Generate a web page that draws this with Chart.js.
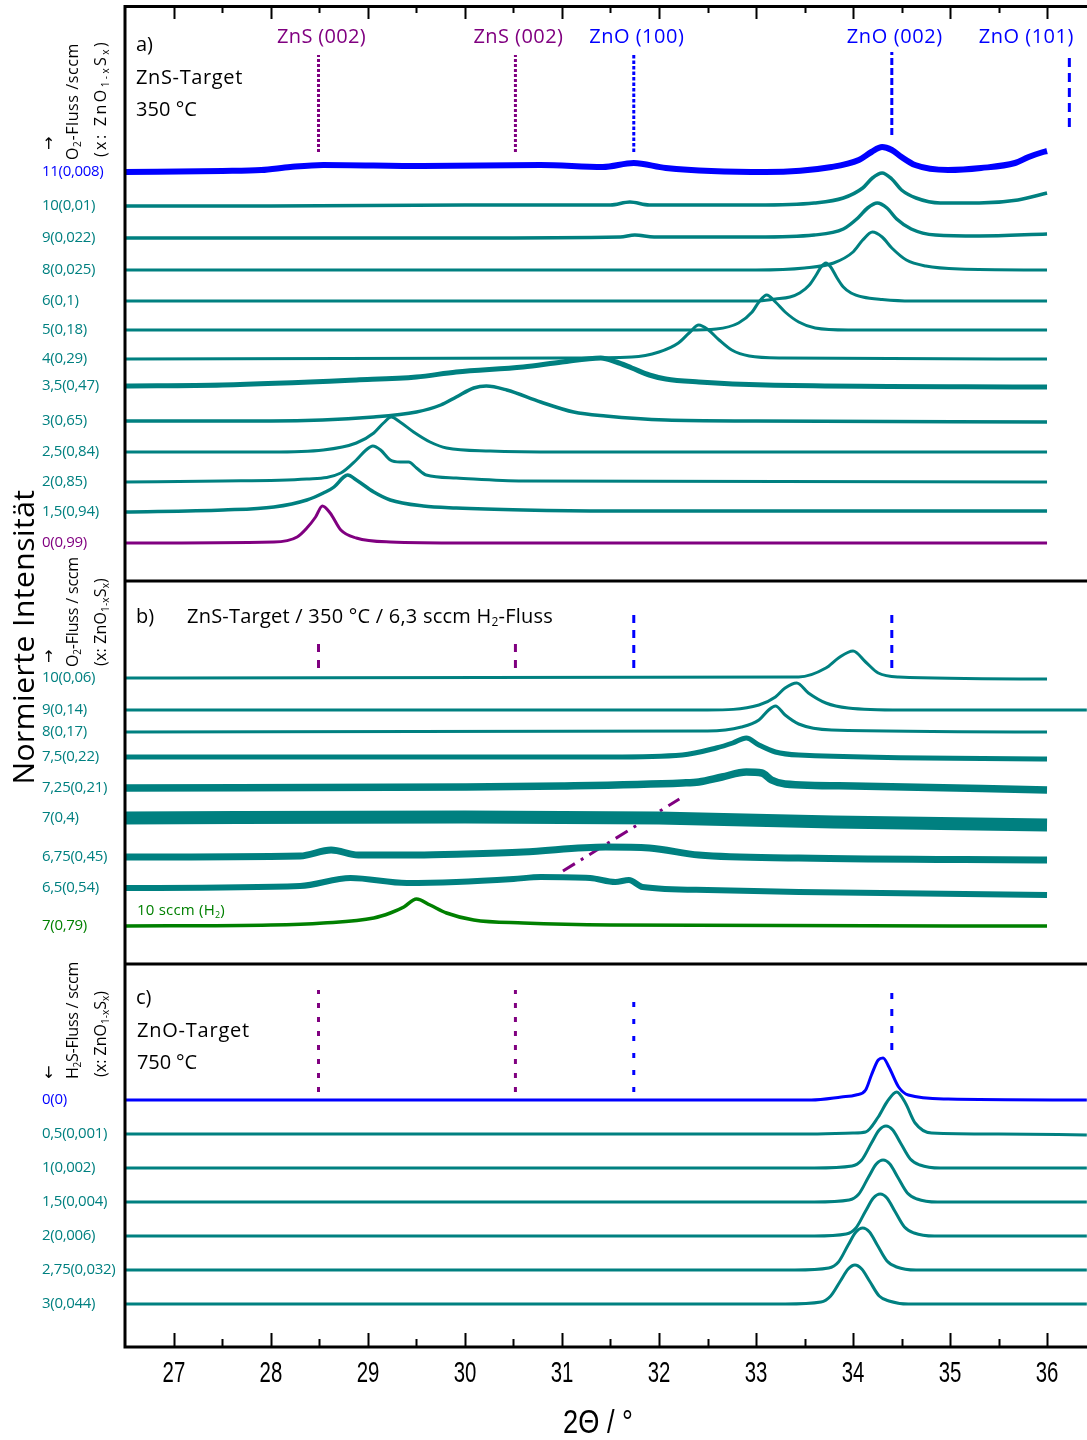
<!DOCTYPE html>
<html>
<head>
<meta charset="utf-8">
<script src="https://cdn.jsdelivr.net/npm/chart.js@4/dist/chart.umd.min.js"></script>
<style>
  html, body { margin: 0; padding: 0; background: #fff; }
  canvas { display: block; }
</style>
</head>
<body>
<canvas id="xrd" width="1087" height="1440" style="width:1087px;height:1440px"></canvas>
<script>
// ---- axis ----------------------------------------------------------------
const xMin = 26.485, xMax = 36.412;
const xTicks = [27, 28, 29, 30, 31, 32, 33, 34, 35, 36];
const xMinorTicks = [27.5, 28.5, 29.5, 30.5, 31.5, 32.5, 33.5, 34.5, 35.5];

// ---- reference reflections (2θ / °) ---------------------------------------
const refNames = ['ZnS (002)', 'ZnS (002)', 'ZnO (100)', 'ZnO (002)', 'ZnO (101)'];
const refPositions = [28.49, 30.52, 31.74, 34.40, 36.23];

// ---- panel a: ZnS target, 350 °C, O2 flow (x) : [2θ, intensity] ------------
const a11  = [[26.49,0],[27.5,1],[27.9,2],[28.2,5],[28.54,7],[29.57,6],[30.78,7],[31.42,5],[31.74,9],[32.07,4],[33.1,0],[33.78,5],[34.06,12],[34.19,20],[34.3,25],[34.4,22],[34.5,15],[34.64,7],[34.98,2],[35.32,4],[35.67,9],[35.81,15],[35.96,20],[36.0,21]];
const a10  = [[26.49,0],[28,0],[30,1],[31.5,1],[31.7,4],[31.9,1],[33,1],[33.6,3],[33.9,8],[34.1,18],[34.2,28],[34.3,33],[34.4,27],[34.5,16],[34.65,8],[34.9,3],[35.3,3],[35.7,6],[36,13]];
const a9   = [[26.49,0],[30,0],[31.6,1],[31.75,3],[31.95,1],[33,1],[33.6,3],[33.9,9],[34.05,20],[34.15,30],[34.25,35],[34.35,30],[34.45,19],[34.6,9],[34.85,3],[35.3,2],[36,4]];
const a8   = [[26.49,0],[33,0],[33.5,2],[33.8,7],[34.0,18],[34.1,30],[34.2,38],[34.3,33],[34.4,22],[34.55,10],[34.75,4],[35.1,1],[36,0]];
const a6   = [[26.49,0],[33.0,0],[33.2,2],[33.35,4],[33.45,8],[33.55,16],[33.62,26],[33.67,34],[33.72,38],[33.77,34],[33.83,24],[33.9,14],[33.98,8],[34.1,4],[34.3,1.5],[34.6,0],[36,0]];
const a5   = [[26.49,0],[32.3,0],[32.59,1],[32.82,7],[32.96,18],[33.03,28],[33.11,35],[33.2,28],[33.3,18],[33.44,8],[33.61,2],[33.95,0],[36,0]];
const a4   = [[26.49,0],[31,1],[31.72,2],[32.0,7],[32.2,16],[32.31,26],[32.41,34],[32.51,29],[32.62,19],[32.75,9],[32.93,3],[33.27,1],[36,0]];
const a3_5 = [[26.49,0],[27.5,1],[28.88,6],[29.5,9],[29.91,14],[30.6,19],[31.0,24],[31.4,28],[31.56,24],[31.72,18],[31.9,11],[32.07,7],[32.41,4],[33.1,1],[36,-1]];
const a3   = [[26.49,0],[28,0],[29.06,4],[29.5,9],[29.75,16],[29.91,24],[30.09,33],[30.22,35],[30.43,31],[30.78,19],[31.12,9],[31.45,5],[32.07,1],[33,0],[36,-1]];
const a2_5 = [[26.49,0],[28,0],[28.54,2],[28.88,9],[29.06,19],[29.16,29],[29.24,35],[29.33,30],[29.47,20],[29.64,10],[29.81,4],[30.26,1],[31,0],[36,0]];
const a2   = [[26.49,0],[27.5,1],[28.37,3],[28.72,9],[28.88,22],[28.98,32],[29.05,36],[29.13,32],[29.23,22],[29.33,20],[29.42,20],[29.5,14],[29.6,7],[29.91,4],[30.6,1],[36,0]];
const a1_5 = [[26.49,0],[27.51,2],[28.03,5],[28.37,12],[28.54,19],[28.65,25],[28.75,35],[28.79,37],[28.88,32],[29.06,20],[29.23,12],[29.57,6],[29.91,4],[30.6,2],[31.5,1],[36,1]];
const a0   = [[26.49,0],[28.03,1],[28.27,6],[28.37,15],[28.46,26],[28.53,37],[28.61,30],[28.72,13],[28.88,5],[29.23,1],[30,0],[36,0]];

const aNames   = ['11(0,008)', '10(0,01)', '9(0,022)', '8(0,025)', '6(0,1)', '5(0,18)', '4(0,29)', '3,5(0,47)', '3(0,65)', '2,5(0,84)', '2(0,85)', '1,5(0,94)', '0(0,99)'];
const aSeries  = [a11, a10, a9, a8, a6, a5, a4, a3_5, a3, a2_5, a2, a1_5, a0];
const aOffsets = [1175, 1141, 1109, 1077, 1046, 1017, 988, 961, 926, 895, 865, 835, 804];

// ---- panel b: ZnS target, 350 °C, 6,3 sccm H2, O2 flow (x) ----------------
const b10   = [[26.49,0],[33.44,1],[33.72,10],[33.85,20],[34.0,27],[34.13,16],[34.26,5],[34.47,1],[36,-1]];
const b9    = [[26.49,0],[32.5,0],[33.03,5],[33.2,13],[33.3,22],[33.42,27],[33.54,17],[33.72,7],[33.95,2],[34.5,0],[36.41,0]];
const b8    = [[26.49,0],[32.5,1],[32.85,5],[33.03,12],[33.13,22],[33.2,26],[33.3,17],[33.44,8],[33.78,2],[36,0]];
const b7_5  = [[26.49,0],[31.5,0],[32.24,2],[32.59,9],[32.76,14],[32.9,19],[33.03,12],[33.2,5],[33.44,2],[36,-2]];
const b7_25 = [[26.49,0],[30,1],[31,2],[32.24,5],[32.41,6],[32.65,11],[32.9,16],[33.06,15],[33.16,8],[33.3,4],[34,2],[36,-2]];
const b7    = [[26.49,0],[30,1],[32,0],[33.8,-4],[36,-7]];
const b6_75 = [[26.49,0],[28.3,1],[28.62,7],[28.9,2],[29.5,2],[30,3],[30.6,5],[31.45,10],[31.9,9],[32.41,2],[33.44,-1],[36,-3]];
const b6_5  = [[26.49,0],[28.3,2],[28.82,10],[29.4,5],[29.91,6],[30.5,9],[30.78,11],[31.29,10],[31.55,6],[31.69,8],[31.83,1],[32.5,-2],[33.44,-4],[36,-7]];
const bH2   = [[26.49,0],[28,1],[28.54,3],[29.06,8],[29.23,13],[29.37,19],[29.5,27],[29.64,21],[29.81,13],[30.09,6],[30.6,3],[31.5,1],[36,0]];

const bNames   = ['10(0,06)', '9(0,14)', '8(0,17)', '7,5(0,22)', '7,25(0,21)', '7(0,4)', '6,75(0,45)', '6,5(0,54)', '7(0,79)'];
const bSeries  = [b10, b9, b8, b7_5, b7_25, b7, b6_75, b6_5, bH2];
const bOffsets = [669, 637, 615, 590, 559, 529, 490, 459, 421];
// trend of the shifting reflection in panel b: [2θ, level]
const bTrend = [[31.01, 476], [32.21, 548]];

// ---- panel c: ZnO target, 750 °C, H2S flow (x) ------------------------------
const c0   = [[26.49,0],[33.57,0],[33.88,3],[34.03,5],[34.13,10],[34.19,25],[34.26,40],[34.31,42],[34.37,33],[34.47,13],[34.57,5],[34.98,1],[36.41,0]];
const c0_5 = [[26.49,0],[33.5,0],[34.0,1],[34.13,2],[34.26,17],[34.35,32],[34.45,42],[34.54,31],[34.64,11],[34.81,1],[35.5,0],[36.41,-1]];
const c1   = [[26.49,0],[33.6,0],[33.99,2],[34.09,8],[34.19,25],[34.27,38],[34.34,42],[34.41,38],[34.49,25],[34.59,9],[34.69,3],[34.9,0],[36.41,0]];
const c1_5 = [[26.49,0],[33.6,0],[33.96,2],[34.06,8],[34.16,25],[34.24,38],[34.31,42],[34.38,38],[34.46,25],[34.56,9],[34.66,3],[34.87,0],[36.41,0]];
const c2   = [[26.49,0],[33.6,0],[33.93,2],[34.03,8],[34.13,25],[34.21,38],[34.28,42],[34.35,38],[34.43,25],[34.53,9],[34.63,3],[34.84,0],[36.41,0]];
const c2_75= [[26.49,0],[33.4,0],[33.75,2],[33.85,8],[33.95,25],[34.03,38],[34.1,42],[34.17,38],[34.25,25],[34.35,9],[34.45,3],[34.65,0],[36.41,0]];
const c3   = [[26.49,0],[33.3,0],[33.67,2],[33.77,8],[33.87,23],[33.95,35],[34.02,39],[34.09,35],[34.17,23],[34.27,8],[34.37,3],[34.57,0],[36.41,0]];

const cNames   = ['0(0)', '0,5(0,001)', '1(0,002)', '1,5(0,004)', '2(0,006)', '2,75(0,032)', '3(0,044)'];
const cSeries  = [c0, c0_5, c1, c1_5, c2, c2_75, c3];
const cOffsets = [247, 213, 179, 145, 111, 77, 43];

// panel boundaries on the intensity axis
const panelBreaks = [767, 384];
const yMaxTotal = 1342;

// reference marker extents on the intensity axis per panel (null = not shown)
const aRefSpans = [[1195, 1292], [1195, 1292], [1195, 1292], [1212, 1295], [1220, 1290]];
const bRefSpans = [[679, 705], [679, 705], [679, 735], [679, 735], null];
const cRefSpans = [[255, 357], [255, 357], [255, 357], [297, 354], null];

// ---- styles ----------------------------------------------------------------
const TEAL = '#008080', BLUE = '#0000ff', PURPLE = '#800080', GREEN = '#008000';
const FONT = "'Open Sans', 'DejaVu Sans', sans-serif";
const aColors = [BLUE, TEAL, TEAL, TEAL, TEAL, TEAL, TEAL, TEAL, TEAL, TEAL, TEAL, TEAL, PURPLE];
const aWidths = [6, 3.5, 3.5, 3, 3, 3, 3, 5, 3.5, 3, 3, 3.5, 3];
const bColors = [TEAL, TEAL, TEAL, TEAL, TEAL, TEAL, TEAL, TEAL, GREEN];
const bWidths = [3, 3, 3, 5, 7.5, 13, 7, 6, 3.5];
const cColors = [BLUE, TEAL, TEAL, TEAL, TEAL, TEAL, TEAL];
const cWidths = [3, 3, 3, 3, 3, 3, 3];
const refColors = [PURPLE, PURPLE, BLUE, BLUE, BLUE];
const aDash = [[3, 2], [3, 2], [3.5, 2], [7, 3], [9, 6]];
const bDash = [[8, 8], [8, 8], [8, 7], [8, 7], null];
const cDash = [[5, 9], [5, 9], [5, 12], [7, 10], null];

// ---- datasets --------------------------------------------------------------
const datasets = [];
function addTraces(series, offsets, colors, widths) {
  series.forEach((pts, i) => {
    datasets.push({
      data: pts.map(([x, v]) => ({ x, y: offsets[i] + v })),
      borderColor: colors[i],
      borderWidth: widths[i],
      pointRadius: 0,
      fill: false,
      cubicInterpolationMode: 'monotone',
      borderJoinStyle: 'round',
      borderCapStyle: 'butt'
    });
  });
}
function addRefs(spans, dashes) {
  spans.forEach((span, i) => {
    if (!span) return;
    datasets.push({
      data: [{ x: refPositions[i], y: span[0] }, { x: refPositions[i], y: span[1] }],
      borderColor: refColors[i],
      borderWidth: 3,
      borderDash: dashes[i],
      pointRadius: 0,
      tension: 0,
      fill: false
    });
  });
}
addTraces(aSeries, aOffsets, aColors, aWidths);
addTraces(bSeries, bOffsets, bColors, bWidths);
addTraces(cSeries, cOffsets, cColors, cWidths);
addRefs(aRefSpans, aDash);
addRefs(bRefSpans, bDash);
addRefs(cRefSpans, cDash);
datasets.push({
  data: bTrend.map(([x, y]) => ({ x, y })),
  borderColor: PURPLE, borderWidth: 3, borderDash: [14, 7, 3, 7],
  pointRadius: 0, tension: 0, fill: false
});

// ---- text helpers -----------------------------------------------------------
// parts: [[text, isSubscript], ...]
function textRun(ctx, parts, x, y, o) {
  const size = o.size, fam = o.family || FONT;
  const fontFor = sub => `${sub ? Math.round(size * 0.62) : size}px ${fam}`;
  ctx.letterSpacing = '0px';
  const nat = parts.map(([t, sub]) => { ctx.font = fontFor(sub); return ctx.measureText(t).width; });
  const n = parts.reduce((s, [t]) => s + t.length, 0);
  const natW = nat.reduce((a, b) => a + b, 0);
  const ls = o.width ? (o.width - natW) / n : (o.ls || 0);
  const W = natW + ls * n;
  let cx = o.align === 'center' ? x - W / 2 : x;
  ctx.fillStyle = o.color || '#000';
  ctx.textBaseline = 'middle';
  ctx.textAlign = 'left';
  ctx.letterSpacing = ls + 'px';
  parts.forEach(([t, sub], i) => {
    ctx.font = fontFor(sub);
    ctx.fillText(t, cx, sub ? y + size * 0.3 : y);
    cx += nat[i] + ls * t.length;
  });
  ctx.letterSpacing = '0px';
}
function rotRun(ctx, parts, x, y, o) {
  ctx.save();
  ctx.translate(x, y);
  ctx.rotate(-Math.PI / 2);
  textRun(ctx, parts, 0, 0, o);
  ctx.restore();
}
const plain = s => [[s, false]];
const compLabel = [['(x: ZnO', false], ['1-x', true], ['S', false], ['x', true], [')', false]];

// ---- frame, ticks and annotations -----------------------------------------
const decor = {
  id: 'decor',
  afterDraw(chart) {
    const { ctx, chartArea: ca, scales: { x, y } } = chart;
    ctx.save();
    ctx.strokeStyle = '#000';
    ctx.lineCap = 'butt';

    // frame lines
    ctx.lineWidth = 3;
    ctx.beginPath();
    ctx.moveTo(ca.left + 1, ca.top); ctx.lineTo(ca.left + 1, ca.bottom + 1.5);
    ctx.moveTo(ca.left, ca.top + 1.5); ctx.lineTo(ca.right, ca.top + 1.5);
    ctx.moveTo(ca.left, ca.bottom); ctx.lineTo(ca.right, ca.bottom);
    panelBreaks.forEach(v => {
      const py = y.getPixelForValue(v) + 1;
      ctx.moveTo(ca.left, py); ctx.lineTo(ca.right, py);
    });
    ctx.stroke();

    // inward ticks on top and bottom
    ctx.lineWidth = 2;
    ctx.beginPath();
    const tick = (v, len) => {
      const px = Math.round(x.getPixelForValue(v)) + 0.5;
      ctx.moveTo(px, ca.top); ctx.lineTo(px, ca.top + len);
      ctx.moveTo(px, ca.bottom); ctx.lineTo(px, ca.bottom - len);
    };
    xTicks.forEach(v => tick(v, 14));
    xMinorTicks.forEach(v => tick(v, 8));
    ctx.stroke();

    // tick labels (condensed)
    ctx.fillStyle = '#000';
    ctx.textAlign = 'center';
    ctx.textBaseline = 'middle';
    ctx.font = "30px 'Liberation Sans', Arial, sans-serif";
    xTicks.forEach(v => {
      ctx.save();
      ctx.translate(x.getPixelForValue(v), ca.bottom + 27);
      ctx.scale(0.68, 1);
      ctx.fillText(String(v), 0, 0);
      ctx.restore();
    });
    // axis title
    ctx.save();
    ctx.translate(598, ca.bottom + 77);
    ctx.scale(0.8, 1);
    ctx.font = "34px 'Liberation Sans', Arial, sans-serif";
    ctx.fillText('2Θ / °', 0, 0);
    ctx.restore();

    // vertical axis title
    rotRun(ctx, plain('Normierte Intensität'), 25, 637, { size: 30, width: 295, align: 'center' });

    // reflection names
    const refLabelWidths = [89, 90, 95, 96, 95];
    refNames.forEach((nm, i) => {
      textRun(ctx, plain(nm), x.getPixelForValue(refPositions[i]) + (i === 4 ? -43 : 3), ca.top + 32,
        { size: 20, color: refColors[i], width: refLabelWidths[i], align: 'center' });
    });

    // trace labels
    const labelCol = 42;
    const drawNames = (names, offsets, colors) => names.forEach((nm, i) => {
      textRun(ctx, plain(nm), labelCol, y.getPixelForValue(offsets[i]), { size: 15, color: colors[i], ls: -0.3 });
    });
    drawNames(aNames, aOffsets, aColors);
    drawNames(bNames, bOffsets, bColors);
    drawNames(cNames, cOffsets, cColors);

    // column headers
    ctx.fillStyle = '#000';
    textRun(ctx, plain('↑'), 42, 144, { size: 16 });
    rotRun(ctx, [['O', false], ['2', true], ['-Fluss /sccm', false]], 73, 160, { size: 16, width: 117 });
    rotRun(ctx, compLabel, 101, 157, { size: 16, width: 117 });

    textRun(ctx, plain('↑'), 42, 657, { size: 16 });
    rotRun(ctx, [['O', false], ['2', true], ['-Fluss / sccm', false]], 73, 667, { size: 16, width: 110 });
    rotRun(ctx, compLabel, 101, 666, { size: 16, width: 88 });

    textRun(ctx, plain('↓'), 42, 1073, { size: 16 });
    rotRun(ctx, [['H', false], ['2', true], ['S-Fluss / sccm', false]], 73, 1079, { size: 16, width: 117 });
    rotRun(ctx, compLabel, 101, 1077, { size: 16, width: 86 });

    // panel captions
    textRun(ctx, plain('a)'), 136, 45, { size: 20 });
    textRun(ctx, plain('ZnS-Target'), 136, 78, { size: 20, width: 107 });
    textRun(ctx, plain('350 °C'), 136, 110, { size: 20, width: 61 });

    textRun(ctx, plain('b)'), 136, 617, { size: 20 });
    textRun(ctx, [['ZnS-Target / 350 °C / 6,3 sccm H', false], ['2', true], ['-Fluss', false]], 187, 617, { size: 20, width: 366 });

    textRun(ctx, plain('c)'), 136, 998, { size: 20 });
    textRun(ctx, plain('ZnO-Target'), 137, 1031, { size: 20, width: 113 });
    textRun(ctx, plain('750 °C'), 137, 1063, { size: 20, width: 60 });

    textRun(ctx, [['10 sccm (H', false], ['2', true], [')', false]], 137, 911, { size: 15, color: GREEN, width: 88 });

    ctx.restore();
  }
};

new Chart(document.getElementById('xrd'), {
  type: 'line',
  data: { datasets },
  options: {
    responsive: false,
    animation: false,
    devicePixelRatio: 1,
    layout: { padding: { left: 124, top: 5, right: 0, bottom: 93 } },
    plugins: { legend: { display: false }, tooltip: { enabled: false } },
    scales: {
      x: { type: 'linear', min: xMin, max: xMax, display: false },
      y: { type: 'linear', min: 0, max: yMaxTotal, display: false }
    }
  },
  plugins: [decor]
});
</script>
</body>
</html>
